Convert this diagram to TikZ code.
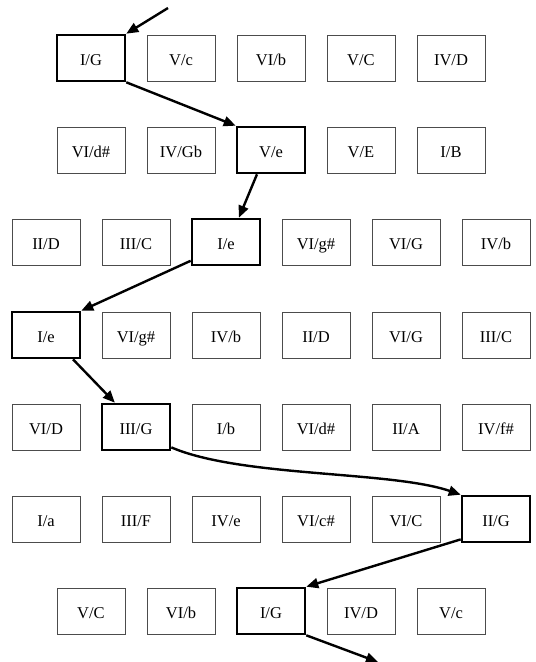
\documentclass[tikz,border=0pt]{standalone}
\usepackage{fontspec}
\setmainfont{Liberation Serif}
\usetikzlibrary{arrows.meta}
\tikzset{
  chord/.style={draw=black!70, line width=0.8pt, minimum width=68pt,
    minimum height=46pt, inner sep=0pt, text height=16pt, text depth=2pt,
    font=\fontsize{16.5}{16.5}\selectfont},
  picked/.style={chord, draw=black, line width=2.6pt},
  walk/.style={->, line width=2.4pt},
}
\begin{document}
\begin{tikzpicture}[x=1pt, y=-1pt, >={Triangle[length=12pt,width=10pt]}]
			\useasboundingbox (0,0) rectangle (536,662);
			% free ends
			\coordinate (enter) at (168,8);
			\coordinate (leave) at (378,662);
			% row 1
			\node[picked] (a1) at (91,58) {I/G};
			\node[chord] (a2) at (181,58) {V/c};
			\node[chord] (a3) at (271,58) {VI/b};
			\node[chord] (a4) at (361,58) {V/C};
			\node[chord] (a5) at (451,58) {IV/D};
			% row 2
			\node[chord] (b1) at (91,150) {VI/d\#};
			\node[chord] (b2) at (181,150) {IV/Gb};
			\node[picked] (b3) at (271,150) {V/e};
			\node[chord] (b4) at (361,150) {V/E};
			\node[chord] (b5) at (451,150) {I/B};
			% row 3
			\node[chord] (c1) at (46,242) {II/D};
			\node[chord] (c2) at (136,242) {III/C};
			\node[picked] (c3) at (226,242) {I/e};
			\node[chord] (c4) at (316,242) {VI/g\#};
			\node[chord] (c5) at (406,242) {VI/G};
			\node[chord] (c6) at (496,242) {IV/b};
			% row 4
			\node[picked] (d1) at (46,335) {I/e};
			\node[chord] (d2) at (136,335) {VI/g\#};
			\node[chord] (d3) at (226,335) {IV/b};
			\node[chord] (d4) at (316,335) {II/D};
			\node[chord] (d5) at (406,335) {VI/G};
			\node[chord] (d6) at (496,335) {III/C};
			% row 5
			\node[chord] (e1) at (46,427) {VI/D};
			\node[picked] (e2) at (136,427) {III/G};
			\node[chord] (e3) at (226,427) {I/b};
			\node[chord] (e4) at (316,427) {VI/d\#};
			\node[chord] (e5) at (406,427) {II/A};
			\node[chord] (e6) at (496,427) {IV/f\#};
			% row 6
			\node[chord] (f1) at (46,519) {I/a};
			\node[chord] (f2) at (136,519) {III/F};
			\node[chord] (f3) at (226,519) {IV/e};
			\node[chord] (f4) at (316,519) {VI/c\#};
			\node[chord] (f5) at (406,519) {VI/C};
			\node[picked] (f6) at (496,519) {II/G};
			% row 7
			\node[chord] (g1) at (91,611) {V/C};
			\node[chord] (g2) at (181,611) {VI/b};
			\node[picked] (g3) at (271,611) {I/G};
			\node[chord] (g4) at (361,611) {IV/D};
			\node[chord] (g5) at (451,611) {V/c};
			% path through the grid
			\draw[walk] (enter) -- (a1.north east);
			\draw[walk] (a1.south east) -- (b3.north west);
			\draw[walk] (b3.240) -- (c3.62);
			\draw[walk] (c3.208) -- (d1.north east);
			\draw[walk] (d1.-42) -- (e2.131);
			\draw[walk] (e2.-30) .. controls +(70,30) and +(-70,-24) .. (f6.north west);
			\draw[walk] (f6.210) -- (g3.north east);
			\draw[walk] (g3.south east) -- (leave);
		\end{tikzpicture}
\end{document}
